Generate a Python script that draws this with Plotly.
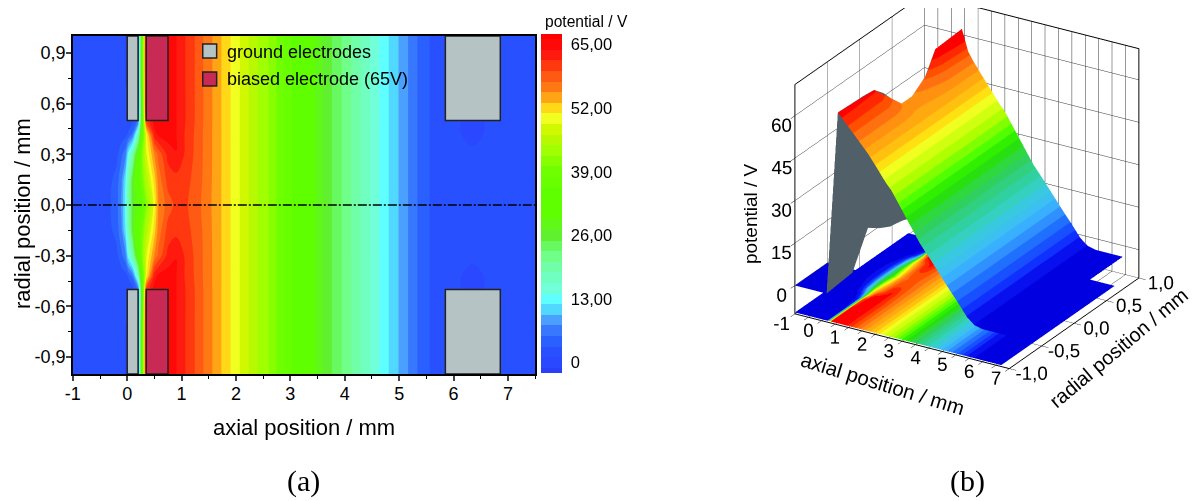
# -*- coding: utf-8 -*-
"""
Potencial en la lente: mapa (a) y superficie 3D (b)
"""
import plotly.graph_objects as go

# ======== DATOS =========
X_HEAD = [-1, -0.5, -0.35, -0.2, -0.1, -0.03, 0.02, 0.1, 0.2, 0.27, 0.35, 0.5, 0.57, 0.75, 0.9, 1.07, 1.24, 1.4]
X_TAIL = [1.73, 2.07, 2.4, 2.6, 3.67, 4.03, 4.38, 4.72, 4.9, 5.08, 5.42, 5.7, 6, 6.35, 6.7, 7.5]
AXIAL = X_HEAD + X_TAIL

RADIAL_HALF = [1.0, 0.75, 0.5, 0.42, 0.3, 0.15, 0.0]
HEAD_100 = [1.5, 1.5, 1.5, 1.5, 1.5, 1, 1, 1, 2, 33, 65, 65, 65, 65, 64, 61.75, 59.6, 57.4]
HEAD_075 = [1.5, 1.5, 1.5, 1.5, 1.5, 1, 1, 1, 2, 33, 65, 65, 65, 65, 64, 61.75, 59.6, 57.4]
HEAD_050 = [1.5, 1.5, 1.5, 1.5, 1.5, 1.5, 2, 2.5, 6, 30, 60, 65, 65, 65, 64, 61.75, 59.6, 57.4]
HEAD_042 = [1.5, 1.5, 1.5, 1.5, 2, 2.5, 3.5, 6, 17, 33, 50, 63, 64.5, 65, 64, 61.5, 59.4, 57.3]
HEAD_030 = [1.5, 1.5, 1.5, 2.5, 5, 7, 13, 19, 30, 40, 48.5, 55.5, 58, 62.5, 63.9, 61.4, 59.3, 57.3]
HEAD_015 = [1.5, 1.5, 2.5, 4, 7.5, 12, 18, 26, 33, 39, 45, 52, 56, 60.5, 61, 60.5, 58.9, 57.2]
HEAD_000 = [1.5, 1.5, 2.8, 4.3, 8, 13, 19, 26, 30, 35, 41, 50, 55.25, 58.5, 60.2, 60, 58.5, 57]
TAIL = [53.1, 48.75, 44.4, 42.25, 26, 21.7, 17.3, 13, 10.8, 8.67, 4.33, 2.17, 1.5, 1.5, 1.5, 1.5]
TAIL_LOBE = [53.1, 48.75, 44.4, 42.25, 26, 21.7, 17.3, 13, 10.8, 8.67, 4.33, 2.17, 1.5, 0.5, 1.5, 1.5]

ELECTRODES_GROUND = [(0, 0.2), (5.85, 6.86)]
ELECTRODES_BIASED = [(0.35, 0.75)]
ELECTRODE_EDGE = 0.5

CBAR_TICKS = [0, 13, 26, 39, 52, 65]
CBAR_LABELS = ["0", "13,00", "26,00", "39,00", "52,00", "65,00"]
MAP_X_TICKS = [-1, 0, 1, 2, 3, 4, 5, 6, 7]
MAP_X_LABELS = ["-1", "0", "1", "2", "3", "4", "5", "6", "7"]
MAP_Y_TICKS = [-0.9, -0.6, -0.3, 0, 0.3, 0.6, 0.9]
MAP_Y_LABELS = ["-0,9", "-0,6", "-0,3", "0,0", "0,3", "0,6", "0,9"]

MAP_COLORS = ["#2a40f8", "#2a48ff", "#2850ff", "#2a60ff", "#3878ff", "#4ba0ff", "#50d8ff", "#60ffff",
              "#70ffd8", "#70ffc0", "#70ffa8", "#70ff88", "#68f860", "#60f030", "#60f818", "#60ff00",
              "#60ff00", "#60ff00", "#68ff00", "#70ff00", "#88ff00", "#a0ff00", "#b8f800", "#d0f800",
              "#f0ff20", "#ffd818", "#ffa414", "#ff7814", "#ff5a14", "#ff3810", "#ff1a10", "#ff0808", "#ff0000"]
SURF_COLORS = ["#0000e0", "#0810f0", "#1030ff", "#1850ff", "#2070ff", "#3090ff", "#38b0ff", "#3cc0f0",
               "#38c8e0", "#35d0c0", "#30d0a0", "#30d080", "#30d060", "#30d840", "#28e010", "#30f000",
               "#50ff00", "#80ff00", "#b0ff00", "#d0ff10", "#f0ff20", "#ffe010", "#ffc010", "#ffa810",
               "#ff9010", "#ff7010", "#ff5000", "#ff2800", "#ff0000"]

# superficie 3D: arista y caida
R3D = [-1, -0.44, -0.3, -0.18, -0.02, 0.2, 0.38, 0.75]
RIDGE_X = [0.6, 0.6, 0.9, 1.0, 1.0, 1.0, 0.9, 1.0]
RIDGE_Z = [65, 64, 59.5, 56, 56, 60, 66, 67.5]
NEXT_Z_124 = [58.3, 58.3, 57, 55.5, 55.5, 57, 59, 60]
NEXT_Z_140 = [56.6, 56.6, 56, 54.8, 54.8, 56, 57, 57.5]
# lamina plana delante de la pared
SHEET_X = [-1, 0.18]
SHEET_R = [-1, -0.5]
# pared gris
WALL_R = [-1, -0.6, -0.44, -0.36, -0.3, -0.18, -0.02, 0.18, 0.38, 0.75]
WALL_X_TOP = [0.6, 0.6, 0.6, 0.75, 0.9, 1.0, 1.0, 1.0, 0.9, 1.0]
WALL_Z_TOP = [65, 64.5, 64, 62, 59.5, 56, 56, 59.5, 66, 67.5]
WALL_Z_LOW = [0, 1, 9, 13, 12, 10, 8, 7, 5, 3]
WALL_X_LOW = [0.18] * 10

FLOOR_Z = -9.5
Z_RANGE = [-10, 71]
Z_TICKS = [0, 15, 30, 45, 60]
X3D_TICKS = [-1, -0.5, 0, 0.5, 1, 1.5, 2, 2.5, 3, 3.5, 4, 4.5, 5, 5.5, 6, 6.5, 7]
X3D_LABELS = ["-1", "", "0", "", "1", "", "2", "", "3", "", "4", "", "5", "", "6", "", "7"]
R3D_TICKS = [-1, -0.5, 0, 0.5, 1]
R3D_LABELS = ["-1,0", "-0,5", "0,0", "0,5", "1,0"]

FONT = "Liberation Sans"
GRAY = "#b5c3c5"
RED = "#c82a55"

# la pagina desplaza la figura (15, 7) px
OFF_X, OFF_Y = 15, 7


def fx(px):
    return (px - OFF_X) / 1198


def fy(py):
    return 1 - (py - OFF_Y) / 501


def stepped(colors):
    n = len(colors)
    out = []
    for i, c in enumerate(colors):
        out += [[i / n, c], [(i + 1) / n, c]]
    return out


# ======== TABLA =========
half = [HEAD_100 + TAIL, HEAD_075 + TAIL, HEAD_050 + TAIL_LOBE, HEAD_042 + TAIL_LOBE,
        HEAD_030 + TAIL, HEAD_015 + TAIL, HEAD_000 + TAIL]
radial = [-r for r in RADIAL_HALF] + RADIAL_HALF[-2::-1]
table = half + half[-2::-1]

fig = go.Figure()

# ======== (a) MAPA =========
n = len(MAP_COLORS)
fig.add_trace(go.Contour(
    x=AXIAL, y=radial, z=table, xaxis="x", yaxis="y",
    autocontour=False,
    contours=dict(start=-1.083, end=66.09, size=2.1667, coloring="fill", showlines=False),
    line=dict(width=0),
    colorscale=[[i / (n - 1), c] for i, c in enumerate(MAP_COLORS)],
    colorbar=dict(thickness=21, x=fx(544), xanchor="left", y=fy(33), yanchor="top", xpad=0, ypad=0,
                  len=339 / 501, tickvals=CBAR_TICKS, ticktext=CBAR_LABELS, ticks="outside", ticklen=6,
                  tickcolor="rgba(0,0,0,0)", outlinewidth=0,
                  tickfont=dict(size=16.5, color="black", family=FONT)),
))
fig.add_trace(go.Scatter(x=[-1, 7.5], y=[0, 0], mode="lines", xaxis="x", yaxis="y", showlegend=False,
                         line=dict(color="black", width=1.5, dash="9px,2px,2px,2px")))

shapes = []
for side in (1, -1):
    for group, color in ((ELECTRODES_GROUND, GRAY), (ELECTRODES_BIASED, RED)):
        for x0, x1 in group:
            shapes.append(dict(type="rect", xref="x", yref="y", x0=x0, x1=x1,
                               y0=side * ELECTRODE_EDGE, y1=side * 1.0,
                               fillcolor=color, line=dict(color="#222", width=1.5)))
# cuadros de leyenda
for y0, y1, color in ((43, 57, GRAY), (71, 85, RED)):
    shapes.append(dict(type="rect", xref="paper", yref="paper", x0=fx(203), x1=fx(217),
                       y0=fy(y1), y1=fy(y0), fillcolor=color, line=dict(color="#222", width=1.5)))

ann = []
for txt, px, py, size, fam in (("ground electrodes", 225, 51, 18, FONT),
                               ("biased electrode (65V)", 225, 78, 18, FONT),
                               ("potential / V", 546, 21, 15.6, FONT),
                               ("(a)", 286, 480, 30, "Liberation Serif"),
                               ("(b)", 953, 480, 30, "Liberation Serif")):
    ann.append(dict(text=txt, xref="paper", yref="paper", x=fx(px), y=fy(py), xanchor="left",
                    yanchor="middle", showarrow=False, font=dict(size=size, family=fam, color="black")))
# titulos girados a mano
for txt, px, py, size, angle in (("axial position / mm", 305, 426, 22, 0),
                                 ("radial position / mm", 22, 212, 22, -90),
                                 ("axial position / mm", 888, 382, 20.5, 17),
                                 ("radial position / mm", 1125, 347, 20, -40),
                                 ("potential / V", 754, 213, 19, -90)):
    ann.append(dict(text=txt, xref="paper", yref="paper", x=fx(px), y=fy(py), xanchor="center",
                    yanchor="middle", showarrow=False, textangle=angle,
                    font=dict(size=size, family=FONT, color="black")))

# ======== (b) SUPERFICIE =========
ridge_tail = [[RIDGE_Z[i], NEXT_Z_124[i], NEXT_Z_140[i]] + TAIL for i in range(len(R3D))]
ridge_x = [[RIDGE_X[i], 1.24, 1.4] + X_TAIL for i in range(len(R3D))]
ridge_y = [[R3D[i]] * (3 + len(X_TAIL)) for i in range(len(R3D))]
scale3d = stepped(SURF_COLORS)
flat = dict(ambient=1, diffuse=0, specular=0, roughness=1, fresnel=0)
fig.add_trace(go.Surface(x=ridge_x, y=ridge_y, z=ridge_tail, surfacecolor=ridge_tail, colorscale=scale3d,
                         cmin=0, cmax=66, showscale=False, lighting=flat, scene="scene"))
fig.add_trace(go.Surface(x=[[SHEET_X[0], SHEET_X[1]]] * 2, y=[[SHEET_R[0]] * 2, [SHEET_R[1]] * 2],
                         z=[[0, 0], [0, 0]], surfacecolor=[[0, 0], [0, 0]], colorscale=scale3d,
                         cmin=0, cmax=66, showscale=False, lighting=flat, scene="scene"))
fig.add_trace(go.Surface(x=[[WALL_X_LOW[i], WALL_X_TOP[i]] for i in range(len(WALL_R))],
                         y=[[r, r] for r in WALL_R],
                         z=[[WALL_Z_LOW[i], WALL_Z_TOP[i]] for i in range(len(WALL_R))],
                         surfacecolor=[[0, 0] for r in WALL_R],
                         colorscale=[[0, "#516068"], [1, "#516068"]],
                         showscale=False, lighting=flat, scene="scene"))
# suelo: mismo mapa proyectado (r hasta 0,75)
floor_rows = [i for i, r in enumerate(radial) if r <= 0.75]
fig.add_trace(go.Surface(x=AXIAL[:-1], y=[radial[i] for i in floor_rows],
                         z=[[FLOOR_Z] * (len(AXIAL) - 1) for i in floor_rows],
                         surfacecolor=[table[i][:-1] for i in floor_rows], colorscale=scale3d,
                         cmin=0, cmax=66, showscale=False, lighting=flat, scene="scene"))

ax3d = dict(showbackground=False, gridcolor="#333333", gridwidth=1, showline=True, linecolor="black",
            linewidth=2, mirror=True, ticks="outside", ticklen=8, tickcolor="black", tickangle=0,
            zeroline=False, showspikes=False, tickfont=dict(size=15, family=FONT, color="black"))
K = 2.25
CENTER = (0.004, 0.002, -0.34)
VIEW = (0.466, -0.771, 0.42)
EYE = (VIEW[0] * K + CENTER[0], VIEW[1] * K + CENTER[1], VIEW[2] * K + CENTER[2])
fig.update_layout(
    width=1198, height=501, margin=dict(l=0, r=0, t=0, b=0), showlegend=False,
    paper_bgcolor="white", plot_bgcolor="white",
    font=dict(family=FONT, color="black"),
    shapes=shapes, annotations=ann,
    xaxis=dict(domain=[fx(72.2), fx(537.6)], range=[-1, 7.5], tickvals=MAP_X_TICKS, ticktext=MAP_X_LABELS,
               ticks="outside", ticklen=5, tickwidth=1.5, showline=True, linewidth=1.5, linecolor="black",
               mirror=True, showgrid=False, zeroline=False, tickfont=dict(size=18), ticklabelstandoff=-2,
               minor=dict(dtick=0.5, ticks="outside", ticklen=3, tickcolor="black", tickwidth=1.2)),
    yaxis=dict(domain=[fy(373), fy(35)], range=[-1, 1], tickvals=MAP_Y_TICKS, ticktext=MAP_Y_LABELS,
               ticks="outside", ticklen=5, tickwidth=1.5, showline=True, linewidth=1.5, linecolor="black",
               mirror=True, showgrid=False, zeroline=False, tickfont=dict(size=18), ticklabelstandoff=-3,
               minor=dict(dtick=0.15, ticks="outside", ticklen=3, tickcolor="black", tickwidth=1.2)),
    scene=dict(
        domain=dict(x=[0.6, 1.0], y=[0.0, 1.0]),
        aspectmode="manual", aspectratio=dict(x=1, y=1, z=1.01),
        camera=dict(eye=dict(x=EYE[0], y=EYE[1], z=EYE[2]), center=dict(x=CENTER[0], y=CENTER[1], z=CENTER[2]),
                    projection=dict(type="orthographic")),
        xaxis=dict(range=[-1, 7], tickvals=X3D_TICKS, ticktext=X3D_LABELS, title=dict(text=""), **ax3d),
        yaxis=dict(range=[-1, 1], tickvals=R3D_TICKS, ticktext=R3D_LABELS, title=dict(text=""), **ax3d),
        zaxis=dict(range=Z_RANGE, tickvals=Z_TICKS, title=dict(text=""), **ax3d),
    ),
)

fig.write_html("out.html")
